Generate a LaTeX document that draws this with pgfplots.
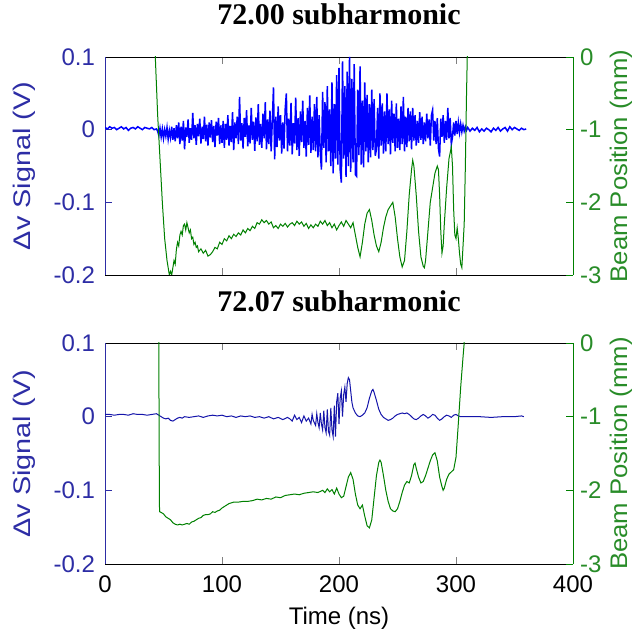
\documentclass[border=0pt]{standalone}
\usepackage{fontspec}
\setmainfont{Liberation Sans}
\newfontfamily\serifbf{Liberation Serif}
\usepackage{graphicx}
\usepackage{pgfplots}
\pgfplotsset{compat=1.18}

\definecolor{sigblue}{RGB}{0,0,255}
\definecolor{sigblue2}{RGB}{20,20,170}
\definecolor{axblue}{RGB}{45,45,165}
\definecolor{posgreen}{RGB}{0,128,0}
\definecolor{axgreen}{RGB}{40,140,40}

\pgfplotsset{
  panel/.style={
    width=234pt, height=109pt, scale only axis,
    xmin=0, xmax=400, xtick={0,100,200,300,400},
    xticklabels={0,100,200,300,400},
    tick label style={font=\fontsize{12}{14}\selectfont},
    xticklabel style={yshift=-2.5pt},
    label style={font=\fontsize{12}{14}\selectfont},
    major tick length=3.5pt,
    title style={font=\serifbf\bfseries\fontsize{15}{18}\selectfont,
      at={(0.5,1)}, anchor=base, yshift=10pt},
  },
  leftax/.style={panel,
    axis y line*=left,
    ymin=-0.2, ymax=0.1,
    ytick={-0.2,-0.1,0,0.1}, yticklabels={-0.2,-0.1,0,0.1},
    y axis line style={draw=axblue},
    ytick style={draw=axblue},
    yticklabel style={text=axblue, xshift=-1.5pt},
    ylabel style={text=axblue, at={(axis description cs:-0.172,0.5)}, anchor=center},
    ylabel={\scalebox{1.2}[1]{Δv Signal (V)}},
  },
  rightax/.style={panel,
    axis y line*=right, axis x line=none,
    ymin=-3, ymax=0,
    ytick={-3,-2,-1,0}, yticklabels={-3,-2,-1,0},
    y axis line style={draw=posgreen},
    ytick style={draw=posgreen},
    yticklabel style={text=axgreen},
    ylabel style={text=axgreen, at={(axis description cs:1.1026,0.5)}, anchor=center},
    ylabel={\scalebox{1.07}[1]{Beam Position (mm)}},
  },
}

\begin{document}
\begin{tikzpicture}
\path[use as bounding box] (0,0) rectangle (317.5pt,315pt);

% ---- top panel: 72.00 subharmonic
\begin{axis}[leftax, at={(52.5pt,177.5pt)}, anchor=south west,
  xticklabels={}, title={72.00 subharmonic}]
\addplot[sigblue, line width=0.75pt] coordinates {
(0,0.003) (2,0.001) (4,0.004) (6,0.002) (8,0.003) (10,0.000) (12,0.002) (14,0.004)
(16,0.001) (18,0.003) (20,-0.001) (22,0.002) (24,0.003) (26,0.001) (28,0.004) (30,0.002)
(32,0.000) (34,0.003) (36,0.002) (38,0.001) (40,0.003) (42,0.000) (44,0.001)
(45,-0.002) (46,-0.008) (47,0.002) (48,-0.010) (49,0.001) (50,-0.012) (51,0.000) (52,-0.009)
(53,0.003) (54,-0.013) (55,-0.001) (56,-0.011) (57,0.004) (58,-0.014) (59,0.002)
(60,-0.016) (61,0.006) (62,-0.012) (63,0.010) (64,-0.020) (65,0.004) (66,-0.015) (67,0.012)
(68,-0.027) (69,0.003) (70,-0.010) (71,0.014) (72,-0.018) (73,0.002) (74,-0.014) (75,0.023)
(76,-0.012) (77,0.006) (78,-0.021) (79,0.008) (80,-0.009) (81,0.015) (82,-0.019) (83,0.004)
(84,-0.013) (85,0.018) (86,-0.016) (87,0.007) (88,-0.022) (89,0.010) (90,-0.011) (91,0.013)
(92,-0.017) (93,0.005) (94,-0.024) (95,0.011) (96,-0.008) (97,0.016) (98,-0.020) (99,0.006)
(100,-0.018) (101,0.012) (102,-0.025) (103,0.008) (104,-0.014) (105,0.020) (106,-0.022) (107,0.005)
(108,-0.017) (109,0.024) (110,-0.028) (111,0.010) (112,-0.012) (113,0.018) (114,-0.020) (115,0.045)
(116,-0.015) (117,0.009) (118,-0.026) (119,0.016) (120,-0.010) (121,0.027) (122,-0.023) (123,0.006)
(124,-0.019) (125,0.030) (126,-0.014) (127,0.011) (128,-0.029) (129,0.017) (130,-0.016) (131,0.035)
(132,-0.021) (133,0.008) (134,-0.025) (135,0.022) (136,-0.012) (137,0.038) (138,-0.027) (139,0.014)
(140,-0.020) (141,0.026) (142,-0.030) (143,0.012) (144,0.058) (145,-0.041) (146,0.018) (147,-0.024)
(148,0.032) (149,-0.015) (150,0.020) (151,-0.033) (152,0.010) (153,-0.026) (154,0.028) (155,0.050)
(156,-0.030) (157,0.015) (158,-0.022) (159,0.037) (160,-0.034) (161,0.009) (162,-0.019) (163,0.044)
(164,-0.028) (165,0.016) (166,-0.036) (167,0.025) (168,-0.017) (169,0.040) (170,-0.025) (171,0.012)
(172,-0.037) (173,0.030) (174,-0.021) (175,0.047) (176,-0.032) (177,0.018) (178,-0.028) (179,0.035)
(180,-0.030) (181,0.045) (182,-0.038) (183,0.020) (184,-0.032) (185,-0.055) (186,0.052) (187,-0.025)
(188,0.038) (189,-0.045) (190,0.060) (191,-0.030) (192,0.028) (193,-0.050) (194,0.065) (195,-0.060)
(196,0.035) (197,-0.040) (198,0.075) (199,-0.048)
(200,0.085) (201,-0.055) (202,-0.073) (203,0.094) (204,-0.040) (205,0.060) (206,-0.065) (207,0.080)
(208,-0.050) (209,0.100) (210,-0.058) (211,0.070) (212,-0.045) (213,0.090) (214,-0.062)
(215,-0.064) (216,0.055) (217,-0.035) (218,0.087) (219,-0.048) (220,0.040) (221,-0.052) (222,0.065)
(223,-0.030) (224,0.048) (225,-0.045) (226,0.035) (227,-0.038) (228,0.055) (229,-0.028) (230,0.042)
(231,-0.036) (232,-0.027) (233,0.030) (234,-0.040) (235,0.050) (236,-0.022) (237,0.036) (238,-0.033)
(239,0.025)
(240,-0.030) (241,0.050) (242,-0.020) (243,0.028) (244,-0.034) (245,0.040) (246,-0.018) (247,0.022)
(248,-0.030) (249,0.036) (250,-0.025) (251,0.015) (252,-0.028) (253,0.032) (254,-0.020) (255,0.045)
(256,-0.030) (257,0.018) (258,-0.024) (259,0.030) (260,-0.016) (261,0.025) (262,-0.027) (263,0.030)
(264,-0.015) (265,0.020) (266,-0.022) (267,0.012) (268,-0.018) (269,0.024)
(270,-0.014) (271,0.018) (272,-0.020) (273,0.010) (274,-0.016) (275,0.022) (276,-0.012) (277,0.014)
(278,-0.022) (279,0.020) (280,0.027) (281,-0.015) (282,0.012) (283,-0.020) (284,0.016) (285,-0.026)
(286,-0.037) (287,0.015) (288,-0.010) (289,0.020) (290,-0.018) (291,0.012) (292,-0.014) (293,0.030)
(294,-0.012) (295,0.016) (296,-0.020) (297,-0.010) (298,0.010) (299,-0.008)
(300,0.012) (301,-0.006) (302,0.010) (303,-0.004) (304,0.008) (305,-0.003) (306,0.006) (307,-0.002)
(308,0.004) (309,-0.001) (310,0.003)
(312,-0.002) (314,0.002) (316,-0.001) (318,0.003) (320,-0.003) (322,0.001) (324,-0.002) (326,0.002)
(328,0.000) (330,-0.003) (332,0.002) (334,-0.001) (336,0.003) (338,-0.002) (340,0.001) (342,0.003)
(344,-0.002) (346,0.004) (348,0.000) (350,0.003) (352,0.001) (354,-0.001) (356,0.002) (358,0.000)
(360,0.001)
};
\end{axis}

\begin{axis}[rightax, at={(52.5pt,177.5pt)}, anchor=south west]
\addplot[posgreen, line width=0.5pt] coordinates {
(42,0.5) (43,0) (45,-0.8) (47,-1.4) (49,-2.0) (51,-2.5) (53,-2.8) (55,-3.0) (56,-2.95) (57,-3.0)
(58,-2.9) (59,-2.8) (60,-2.85) (61,-2.65) (62,-2.55) (63,-2.6) (64,-2.45) (65,-2.4) (66,-2.45)
(67,-2.32) (68,-2.3) (69,-2.38) (70,-2.28) (71,-2.35) (72,-2.42) (73,-2.38) (74,-2.5) (75,-2.48)
(76,-2.58) (77,-2.55) (78,-2.62) (79,-2.6) (80,-2.68) (82,-2.64) (84,-2.7) (86,-2.66) (88,-2.74)
(90,-2.72) (92,-2.68) (94,-2.62) (96,-2.64) (98,-2.55) (100,-2.58) (102,-2.5) (104,-2.53)
(106,-2.46) (108,-2.5) (110,-2.44) (112,-2.47) (114,-2.42) (116,-2.45) (118,-2.38) (120,-2.42)
(122,-2.36) (124,-2.39) (126,-2.33) (128,-2.36) (130,-2.28) (132,-2.3) (134,-2.24) (136,-2.28)
(138,-2.25) (140,-2.3) (142,-2.27) (144,-2.35) (146,-2.32) (148,-2.36) (150,-2.3) (152,-2.33)
(154,-2.29) (156,-2.34) (158,-2.3) (160,-2.28) (162,-2.32) (164,-2.26) (166,-2.3) (168,-2.27)
(170,-2.33) (172,-2.29) (174,-2.36) (176,-2.31) (178,-2.35) (180,-2.3) (182,-2.33) (184,-2.26)
(186,-2.3) (188,-2.25) (190,-2.32) (192,-2.28) (194,-2.35) (196,-2.3) (198,-2.38) (200,-2.32)
(202,-2.27) (204,-2.33) (206,-2.25) (208,-2.3) (210,-2.35) (212,-2.28) (214,-2.45) (216,-2.62)
(218,-2.75) (220,-2.55) (222,-2.3) (224,-2.15) (226,-2.1) (228,-2.25) (230,-2.45) (232,-2.6)
(234,-2.68) (236,-2.55) (238,-2.35) (240,-2.2) (242,-2.1) (244,-2.05) (246,-2.0) (248,-2.2)
(250,-2.5) (252,-2.75) (254,-2.89) (256,-2.8) (258,-2.4) (260,-1.9) (262,-1.55) (263,-1.42)
(264,-1.5) (266,-1.9) (268,-2.4) (270,-2.75) (272,-2.88) (273,-2.9) (274,-2.8) (276,-2.4)
(278,-2.0) (280,-1.8) (282,-1.6) (284,-1.5) (285,-1.55) (286,-1.9) (287,-2.4) (288,-2.7)
(289,-2.6) (290,-2.3) (292,-1.8) (294,-1.4) (296,-1.24) (297,-1.5) (298,-2.1) (299,-2.45)
(300,-2.5) (301,-2.35) (302,-2.5) (303,-2.7) (304,-2.85) (305,-2.9) (306,-2.6) (307,-2.3)
(308,-1.5) (309,-0.5) (310,0.3) (311,1)
};
\end{axis}

% ---- bottom panel: 72.07 subharmonic
\begin{axis}[leftax, height=110.5pt, at={(52.5pt,33pt)}, anchor=south west,
  title={72.07 subharmonic},
  title style={yshift=-0.5pt},
  xlabel={Time (ns)},
  xlabel style={at={(axis description cs:0.5,0)}, anchor=base, yshift=-30pt}]
\addplot[sigblue2, line width=0.5pt] coordinates {
(0,0.003) (4,0.003) (8,0.002) (12,0.003) (16,0.003) (20,0.002) (24,0.004) (28,0.003)
(32,0.003) (36,0.002) (40,0.003) (44,0.004) (46,0.002) (48,0.000) (50,-0.002) (52,-0.003)
(54,-0.002) (56,-0.005) (58,-0.006) (60,-0.004) (62,-0.002) (64,-0.001) (66,-0.002) (68,0.000)
(72,-0.001) (76,0.000) (80,0.001) (84,-0.001) (88,0.001) (92,0.002) (96,0.001) (100,0.002)
(104,0.000) (108,0.001) (112,-0.001) (116,0.001) (120,0.000) (124,0.001) (128,-0.001) (132,0.000)
(136,-0.002) (140,0.000) (144,-0.003) (148,-0.001) (152,-0.004) (156,-0.001) (158,-0.003)
(160,-0.006) (162,0.002) (164,-0.004) (166,-0.001) (168,-0.008) (170,0.001) (172,-0.006)
(174,-0.002) (176,-0.010) (177,0.003) (178,-0.005) (180,-0.012) (181,0.004) (182,-0.008)
(183,-0.015) (184,0.005) (185,-0.010) (186,-0.018) (187,0.008) (188,-0.015) (189,-0.022)
(190,0.010) (191,-0.020) (192,-0.025) (193,0.012) (194,-0.018) (195,-0.027) (196,0.015)
(197,-0.027) (198,0.020) (199,0.032) (200,-0.010) (201,0.025) (202,0.035) (203,0.000)
(204,0.030) (205,0.040) (206,0.020) (207,0.045) (208,0.053) (209,0.050) (210,0.035)
(211,0.020) (212,0.012) (214,0.005) (216,0.001) (218,0.000) (220,0.002) (222,0.005)
(224,0.012) (226,0.025) (228,0.035) (229,0.037) (230,0.033) (232,0.022) (234,0.010)
(236,0.003) (238,-0.001) (240,-0.003) (242,-0.005) (244,-0.004) (246,-0.002) (248,0.001)
(250,0.003) (252,0.004) (254,0.005) (256,0.004) (258,0.005) (260,0.003) (262,0.000)
(264,-0.003) (266,-0.004) (268,-0.002) (270,0.001) (272,0.003) (274,0.001) (276,-0.002)
(278,0.000) (280,0.003) (282,0.002) (284,-0.002) (286,-0.005) (288,-0.003) (290,0.000)
(292,0.002) (294,0.001) (296,-0.001) (298,0.002) (300,0.003) (302,0.001) (304,0.000)
(306,0.000) (310,0.000) (320,0.000) (330,-0.001) (340,0.000) (350,0.000) (356,0.001) (358,0.000)
};
\end{axis}

\begin{axis}[rightax, height=110.5pt, at={(52.5pt,33pt)}, anchor=south west]
\addplot[posgreen, line width=0.5pt] coordinates {
(45.8,0.5) (46,0) (46.3,-1.5) (46.6,-2.29) (48,-2.3) (50,-2.32) (52,-2.36) (54,-2.38)
(56,-2.4) (58,-2.44) (60,-2.46) (62,-2.47) (64,-2.46) (66,-2.47) (68,-2.46) (70,-2.45)
(72,-2.46) (74,-2.43) (76,-2.42) (78,-2.4) (80,-2.38) (82,-2.37) (84,-2.34) (86,-2.33)
(88,-2.33) (90,-2.32) (92,-2.29) (94,-2.3) (96,-2.28) (98,-2.27) (100,-2.24) (102,-2.22)
(104,-2.2) (106,-2.18) (108,-2.17) (110,-2.16) (114,-2.16) (118,-2.15) (122,-2.15)
(126,-2.14) (130,-2.12) (134,-2.13) (138,-2.11) (142,-2.12) (146,-2.09) (150,-2.1)
(154,-2.07) (158,-2.06) (162,-2.05) (166,-2.06) (170,-2.04) (174,-2.03) (178,-2.02)
(182,-2.03) (186,-2.0) (188,-2.03) (190,-1.98) (192,-2.02) (194,-1.99) (196,-2.05)
(198,-1.97) (200,-2.05) (202,-2.1) (204,-2.08) (206,-1.95) (208,-1.82) (210,-1.76)
(212,-1.85) (214,-2.05) (216,-2.2) (218,-2.25) (220,-2.2) (222,-2.35) (224,-2.48)
(226,-2.51) (228,-2.4) (230,-2.1) (232,-1.8) (234,-1.62) (235,-1.59) (236,-1.62)
(238,-1.8) (240,-2.0) (242,-2.15) (244,-2.25) (246,-2.28) (248,-2.29) (250,-2.25)
(252,-2.15) (254,-2.03) (256,-1.93) (258,-1.88) (260,-1.9) (262,-1.8) (264,-1.65)
(265,-1.63) (266,-1.7) (268,-1.82) (270,-1.9) (272,-1.88) (274,-1.8) (276,-1.7)
(278,-1.6) (280,-1.52) (282,-1.49) (284,-1.6) (286,-1.82) (288,-1.95) (289,-2.0)
(290,-1.97) (292,-1.85) (294,-1.78) (296,-1.75) (298,-1.72) (300,-1.55) (302,-1.09)
(304,-0.6) (306,-0.19) (307,0) (308,0.4)
};
\end{axis}
\end{tikzpicture}
\end{document}
